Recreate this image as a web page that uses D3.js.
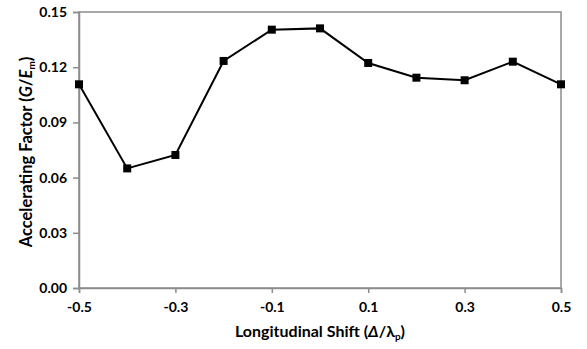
<!DOCTYPE html>
<html>
<head>
<meta charset="utf-8">
<script src="https://cdn.jsdelivr.net/npm/d3@7"></script>
<style>
body { margin: 0; background: #fff; }
text { font-family: Lato, "Open Sans", sans-serif; font-weight: bold; fill: #000; }
</style>
</head>
<body>
<svg id="chart" width="587" height="349"></svg>
<script>

var shift = [-0.5, -0.4, -0.3, -0.2, -0.1, 0.0, 0.1, 0.2, 0.3, 0.4, 0.5];
var factor = [0.1107, 0.0650, 0.0723, 0.1234, 0.1404, 0.1411, 0.1223, 0.1143, 0.1129, 0.1230, 0.1107];
var x_ticks = [-0.5, -0.3, -0.1, 0.1, 0.3, 0.5];
var y_ticks = [0.00, 0.03, 0.06, 0.09, 0.12, 0.15];

var margin = {top: 12, right: 26, bottom: 61, left: 79};
var svg = d3.select("#chart");
var width = 587 - margin.left - margin.right;
var height = 349 - margin.top - margin.bottom;

var x = d3.scaleLinear().domain([-0.5, 0.5]).range([0, width]);
var y = d3.scaleLinear().domain([0, 0.15]).range([height, 0]);

var g = svg.append("g")
    .attr("transform", "translate(" + margin.left + "," + margin.top + ")");

// frame
g.append("rect")
    .attr("x", 0).attr("y", 0)
    .attr("width", width).attr("height", height)
    .attr("fill", "none")
    .attr("stroke", "#8c8c8c")
    .attr("stroke-width", 1.5);

// plain hyphen for negatives, like the original
var fmt = function(p) {
    return function(d) { return d.toFixed(p); };
};

var y_axis = g.append("g")
    .call(d3.axisLeft(y).tickValues(y_ticks).tickSize(6).tickPadding(6)
          .tickFormat(fmt(2)));

var x_axis = g.append("g")
    .attr("transform", "translate(0," + height + ")")
    .call(d3.axisBottom(x).tickValues(x_ticks).tickSize(5).tickPadding(9)
          .tickFormat(fmt(1)));

[y_axis, x_axis].forEach(function(a) {
    a.select(".domain").attr("stroke", "#8c8c8c").attr("stroke-width", 1.5);
    a.selectAll(".tick line").attr("stroke", "#8c8c8c").attr("stroke-width", 1.5);
    a.selectAll(".tick text").style("font-family", "Lato, sans-serif")
        .style("font-weight", "bold").style("font-size", "14px").attr("fill", "#000");
});

var line = d3.line()
    .x(function(d, i) { return x(shift[i]); })
    .y(function(d) { return y(d); });

g.append("path")
    .datum(factor)
    .attr("d", line)
    .attr("fill", "none")
    .attr("stroke", "#000")
    .attr("stroke-width", 2);

g.selectAll(".marker")
    .data(factor)
    .enter().append("rect")
    .attr("class", "marker")
    .attr("x", function(d, i) { return x(shift[i]) - 4; })
    .attr("y", function(d) { return y(d) - 4; })
    .attr("width", 8)
    .attr("height", 8)
    .attr("fill", "#000");

// axis titles
var xt = svg.append("text")
    .attr("x", margin.left + width / 2)
    .attr("y", 337)
    .attr("text-anchor", "middle")
    .style("font-size", "16px");
xt.append("tspan").text("Longitudinal Shift (");
xt.append("tspan").style("font-style", "italic").text("Δ");
xt.append("tspan").text("/λ");
xt.append("tspan").attr("dy", 3).style("font-size", "10px").text("p");
xt.append("tspan").attr("dy", -3).text(")");

var yt = svg.append("text")
    .attr("transform", "translate(32," + (margin.top + height / 2 + 2) + ") rotate(-90)")
    .attr("text-anchor", "middle")
    .style("font-size", "16.5px");
yt.append("tspan").text("Accelerating Factor (");
yt.append("tspan").style("font-style", "italic").text("G");
yt.append("tspan").text("/");
yt.append("tspan").style("font-style", "italic").text("E");
yt.append("tspan").attr("dy", 3).style("font-size", "10px").text("m");
yt.append("tspan").attr("dy", -3).text(")");

</script>
</body>
</html>
